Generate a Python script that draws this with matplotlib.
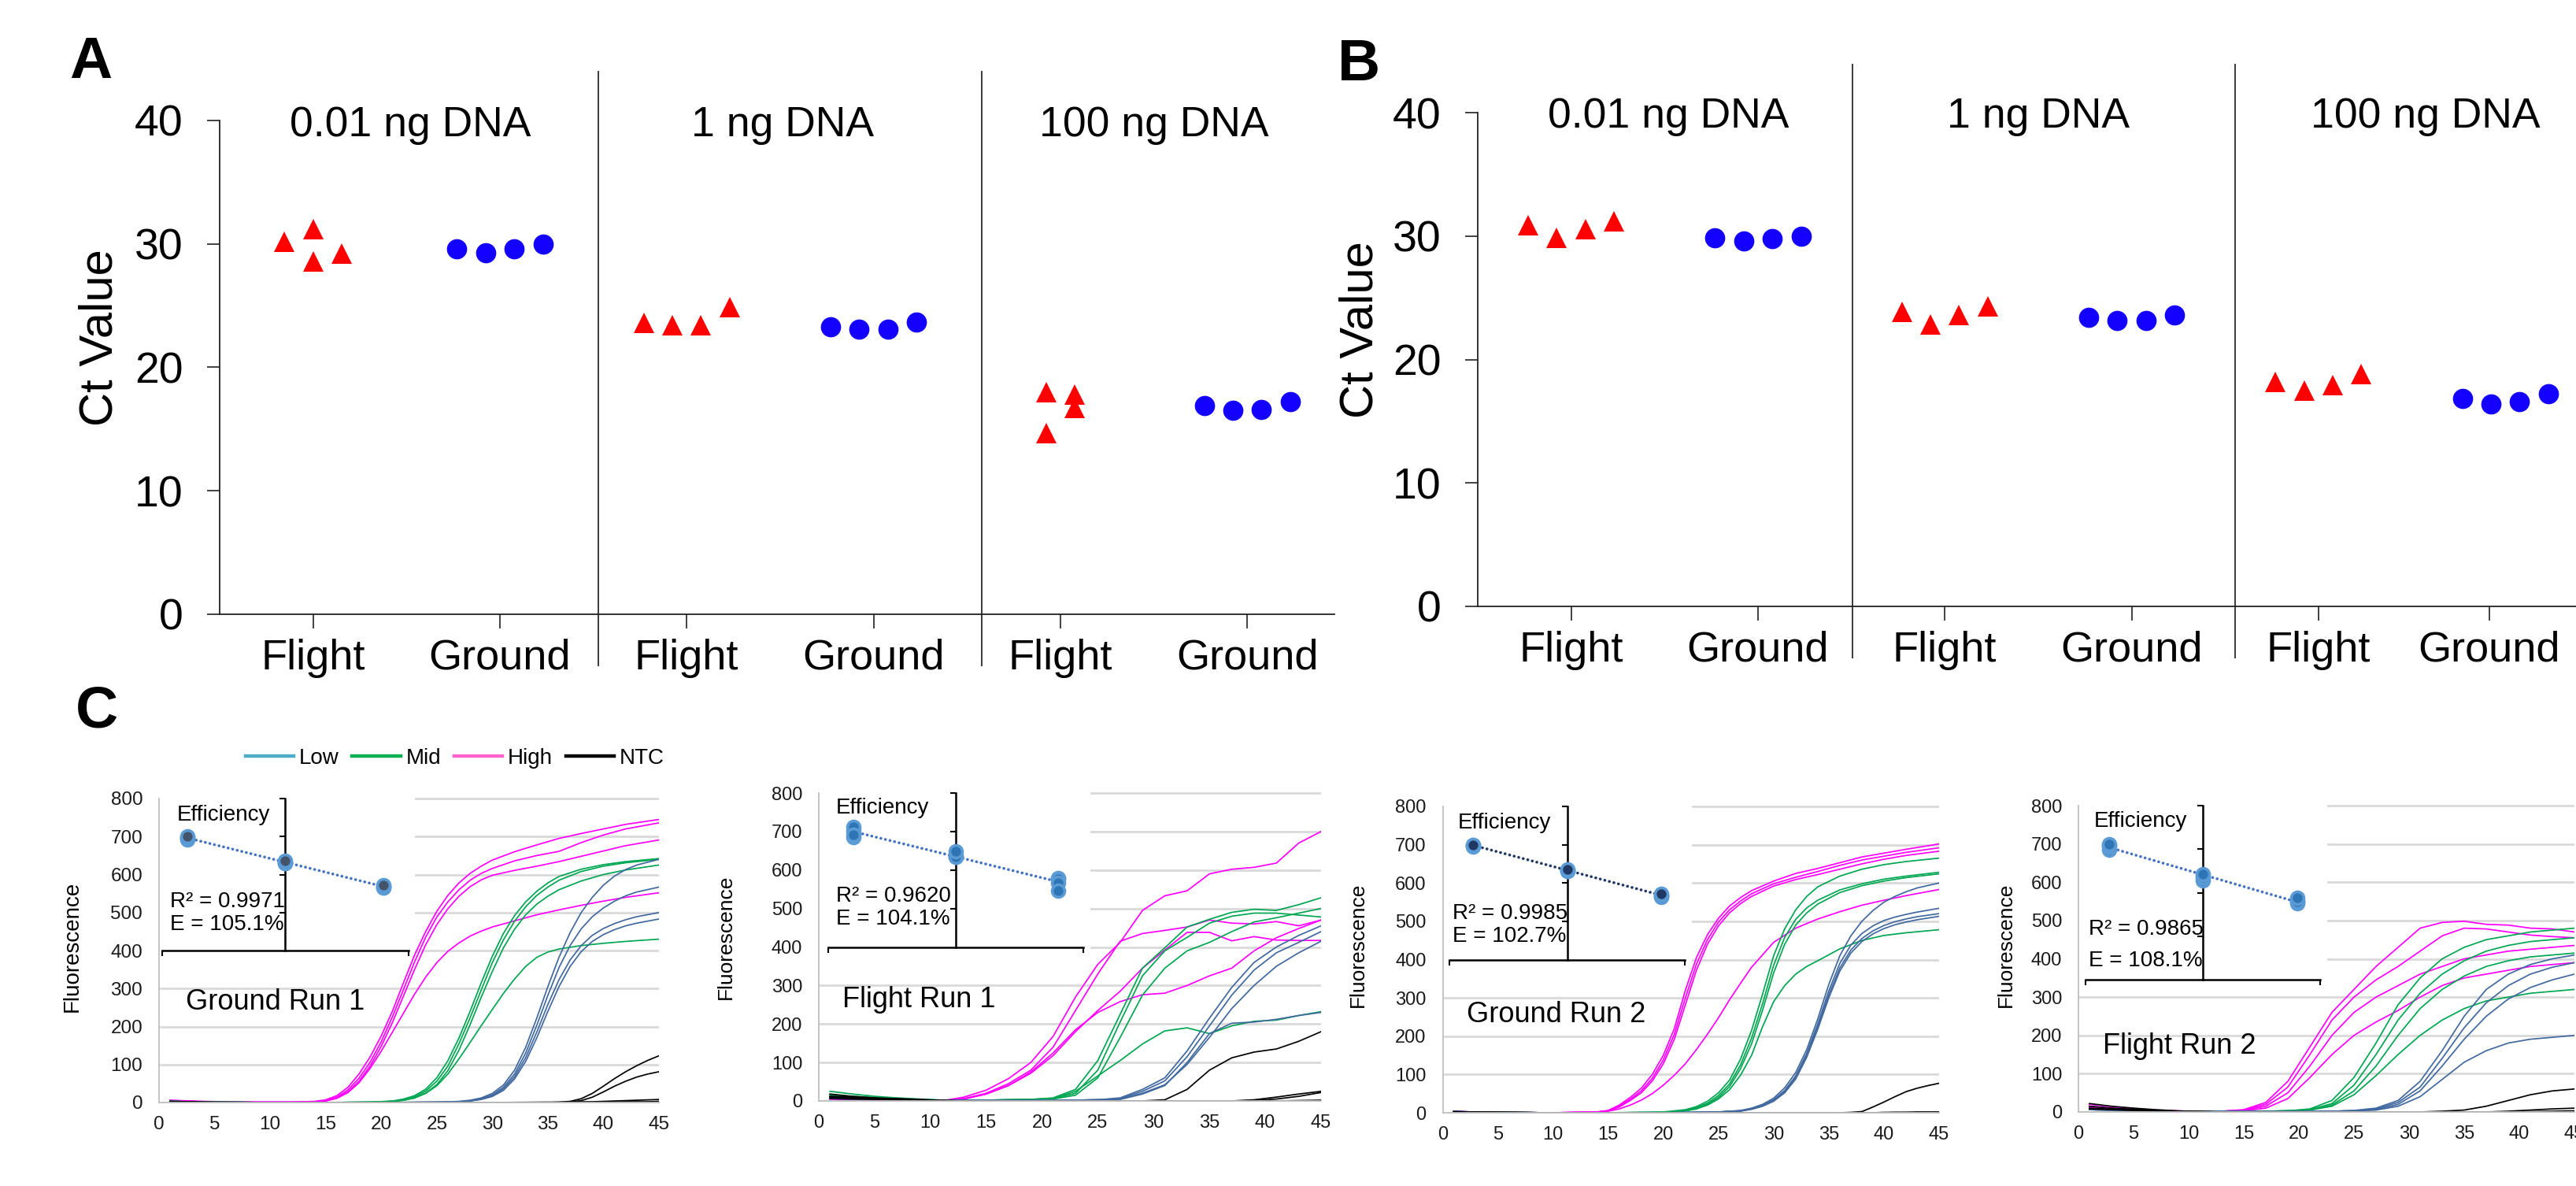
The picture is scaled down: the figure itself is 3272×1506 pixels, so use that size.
import numpy as np
import matplotlib
matplotlib.use("Agg")
import matplotlib.pyplot as plt
from matplotlib.lines import Line2D
from matplotlib.patches import Rectangle

# ------------------------------------------------------------------ data
SECTIONS = ["0.01 ng DNA", "1 ng DNA", "100 ng DNA"]
GROUPS = ["Flight", "Ground"]
CT_TICKS = [0, 10, 20, 30, 40]

# Ct values (4 replicates per amount)
A_FLIGHT = [[30.2, 31.2, 28.6, 29.2], [23.6, 23.4, 23.4, 24.9], [18.0, 17.8, 16.7, 14.7]]
A_GROUND = [[29.6, 29.3, 29.6, 30.0], [23.3, 23.1, 23.1, 23.7], [16.9, 16.5, 16.6, 17.2]]
B_FLIGHT = [[30.9, 29.9, 30.6, 31.2], [23.9, 22.85, 23.6, 24.3], [18.2, 17.5, 17.95, 18.8]]
B_GROUND = [[29.9, 29.6, 29.8, 30.0], [23.4, 23.2, 23.2, 23.6], [16.85, 16.4, 16.6, 17.25]]

# horizontal dodge of replicate markers within each group
DODGE4 = [-0.345, -0.115, 0.115, 0.345]
A_FLIGHT_DX = [[-0.23, 0.0, 0.0, 0.23], DODGE4, [-0.115, 0.115, 0.115, -0.115]]
A_GROUND_DX = [DODGE4, DODGE4, DODGE4]
B_FLIGHT_DX = [DODGE4, DODGE4, DODGE4]
B_GROUND_DX = [DODGE4, DODGE4, DODGE4]

LOG_NG = [-2, 0, 2]          # log10 of template amount used for the efficiency insets
CURVE_LABELS = ["Low", "Mid", "High", "NTC"]
CYCLE_TICKS = [0, 5, 10, 15, 20, 25, 30, 35, 40, 45]
FLUO_TICKS = [0, 100, 200, 300, 400, 500, 600, 700, 800]

# ---- Ground Run 1
GR1_HIGH_CYC = [1, 4, 8, 12, 14, 15, 16, 17, 18, 19, 20, 21, 22, 23, 24, 25, 26, 27, 28, 29, 30, 32, 34, 36, 38, 40, 42, 45]
GR1_HIGH = [
    [6, 3, 1, 1, 3, 7, 18, 40, 75, 120, 175, 240, 315, 388, 450, 503, 545, 578, 603, 622, 638, 660, 678, 695, 708, 720, 732, 745],
    [5, 2, 1, 1, 2, 5, 14, 33, 64, 106, 160, 225, 297, 370, 435, 488, 528, 560, 585, 603, 616, 636, 650, 661, 684, 704, 720, 736],
    [5, 2, 1, 1, 2, 4, 12, 28, 56, 96, 148, 210, 280, 350, 415, 468, 510, 543, 568, 586, 598, 611, 622, 634, 648, 662, 676, 691],
    [5, 2, 1, 1, 2, 4, 11, 26, 52, 90, 135, 185, 235, 285, 330, 368, 398, 420, 438, 451, 462, 478, 494, 507, 519, 530, 540, 552],
]
GR1_MID_CYC = [1, 5, 10, 15, 19, 21, 22, 23, 24, 25, 26, 27, 28, 29, 30, 31, 32, 33, 34, 35, 36, 38, 40, 42, 45]
GR1_MID = [
    [3, 1, 0, 0, 1, 4, 9, 18, 35, 65, 110, 170, 240, 315, 385, 445, 492, 528, 556, 578, 595, 614, 626, 634, 642],
    [3, 1, 0, 0, 1, 3, 7, 15, 30, 56, 96, 155, 223, 296, 368, 428, 477, 515, 545, 567, 585, 608, 622, 631, 640],
    [3, 1, 0, 0, 1, 3, 6, 12, 25, 47, 84, 138, 205, 277, 345, 407, 456, 494, 522, 543, 560, 583, 600, 612, 625],
    [3, 1, 0, 0, 1, 3, 6, 12, 24, 44, 75, 115, 158, 202, 245, 287, 325, 358, 382, 396, 404, 413, 419, 424, 430],
]
GR1_LOW_CYC = [1, 5, 10, 15, 20, 25, 27, 28, 29, 30, 31, 32, 33, 34, 35, 36, 37, 38, 39, 40, 41, 42, 43, 45]
GR1_LOW = [
    [2, 1, 0, 0, 0, 1, 3, 6, 12, 24, 46, 85, 145, 222, 305, 382, 447, 500, 540, 572, 596, 613, 625, 640],
    [2, 1, 0, 0, 0, 1, 2, 5, 10, 20, 40, 75, 130, 203, 282, 355, 413, 457, 489, 512, 530, 544, 554, 567],
    [2, 1, 0, 0, 0, 1, 2, 4, 9, 18, 36, 68, 118, 185, 258, 323, 375, 413, 440, 458, 471, 481, 489, 500],
    [2, 1, 0, 0, 0, 1, 2, 4, 8, 16, 32, 62, 108, 170, 240, 305, 358, 397, 424, 442, 455, 465, 472, 483],
]
GR1_NTC_CYC = [1, 5, 10, 20, 30, 35, 36, 37, 38, 39, 40, 41, 42, 43, 44, 45]
GR1_NTC = [
    [1, 0, 0, 0, 0, 0, 1, 3, 10, 24, 43, 63, 81, 97, 111, 123],
    [1, 0, 0, 0, 0, 0, 0, 1, 5, 14, 28, 43, 56, 67, 75, 81],
    [3, 1, 0, 0, 0, 1, 1, 1, 2, 2, 3, 4, 5, 6, 7, 8],
    [2, 1, 0, 0, 0, 0, 0, 0, 0, 1, 1, 1, 2, 2, 2, 3],
]

# ---- Flight Run 1 (one shared cycle grid)
FL1_CYC = [1, 3, 5, 7, 9, 11, 13, 15, 17, 19, 21, 23, 25, 27, 29, 31, 33, 35, 37, 39, 41, 43, 45]
FL1_HIGH = [
    [8, 6, 4, 3, 2, 0, 10, 28, 58, 100, 168, 270, 355, 412, 495, 533, 546, 590, 602, 607, 618, 670, 700],
    [6, 5, 3, 2, 1, 0, 6, 20, 45, 80, 140, 235, 330, 415, 435, 443, 452, 470, 462, 460, 466, 455, 470],
    [5, 4, 3, 2, 1, 0, 5, 18, 40, 75, 125, 185, 230, 258, 276, 280, 300, 325, 345, 390, 424, 448, 470],
    [5, 4, 3, 2, 1, 0, 5, 18, 40, 72, 118, 180, 235, 285, 345, 392, 438, 438, 416, 427, 418, 417, 417],
]
FL1_MID = [
    [25, 18, 12, 8, 5, 2, 1, 2, 3, 4, 8, 30, 105, 225, 345, 398, 452, 472, 490, 498, 495, 510, 528],
    [15, 12, 9, 6, 4, 2, 1, 2, 3, 4, 6, 20, 80, 205, 325, 390, 425, 462, 480, 488, 488, 483, 478],
    [12, 10, 8, 6, 4, 2, 1, 2, 3, 4, 5, 15, 60, 165, 275, 345, 390, 412, 440, 465, 476, 488, 500],
    [10, 8, 6, 4, 3, 2, 1, 2, 3, 4, 6, 25, 65, 105, 148, 182, 190, 175, 195, 207, 210, 222, 232],
]
FL1_LOW = [
    [8, 6, 5, 4, 3, 2, 1, 1, 1, 1, 1, 2, 3, 8, 30, 60, 130, 215, 295, 360, 400, 430, 455],
    [7, 6, 5, 4, 3, 2, 1, 1, 1, 1, 1, 2, 3, 6, 25, 52, 115, 195, 275, 340, 385, 412, 440],
    [6, 5, 4, 3, 2, 2, 1, 1, 1, 1, 1, 2, 3, 5, 20, 42, 95, 165, 240, 300, 350, 385, 415],
    [6, 5, 4, 3, 2, 2, 1, 1, 1, 1, 1, 2, 3, 4, 18, 40, 100, 175, 202, 205, 212, 222, 230],
]
FL1_NTC = [
    [18, 12, 8, 6, 4, 1, 0, 0, 0, 0, 0, 0, 0, 0, 0, 3, 30, 80, 112, 127, 135, 155, 180],
    [12, 10, 7, 5, 3, 1, 0, 0, 0, 0, 0, 0, 0, 0, 0, 0, 0, 0, 0, 3, 10, 18, 25],
    [10, 8, 6, 5, 3, 1, 0, 0, 0, 0, 0, 0, 0, 0, 0, 0, 0, 0, 0, 1, 5, 12, 22],
    [6, 5, 4, 3, 2, 1, 0, 0, 0, 0, 0, 0, 0, 0, 0, 0, 0, 0, 0, 0, 0, 1, 2],
]

# ---- Ground Run 2
GR2_HIGH_CYC = [1, 5, 10, 14, 15, 16, 17, 18, 19, 20, 21, 22, 23, 24, 25, 26, 27, 28, 30, 32, 34, 36, 38, 40, 42, 45]
GR2_HIGH = [
    [3, 1, 0, 2, 6, 20, 40, 64, 100, 150, 220, 320, 405, 465, 508, 540, 562, 580, 605, 625, 638, 653, 668, 678, 688, 702],
    [3, 1, 0, 2, 5, 17, 35, 57, 90, 138, 205, 300, 388, 452, 498, 530, 553, 572, 598, 615, 630, 646, 660, 670, 680, 692],
    [3, 1, 0, 2, 5, 15, 32, 52, 83, 128, 192, 282, 372, 440, 488, 522, 546, 565, 592, 609, 622, 636, 650, 662, 672, 683],
    [3, 1, 0, 2, 4, 10, 20, 33, 50, 72, 98, 128, 165, 205, 248, 295, 338, 380, 445, 482, 506, 525, 542, 555, 567, 583],
]
GR2_MID_CYC = [1, 5, 10, 15, 20, 22, 23, 24, 25, 26, 27, 28, 29, 30, 31, 32, 33, 34, 36, 38, 40, 42, 45]
GR2_MID = [
    [2, 1, 0, 0, 2, 8, 16, 30, 52, 85, 140, 215, 310, 410, 480, 530, 565, 590, 618, 636, 648, 656, 665],
    [2, 1, 0, 0, 1, 6, 13, 25, 45, 75, 125, 195, 285, 385, 458, 505, 535, 555, 582, 598, 610, 618, 628],
    [2, 1, 0, 0, 1, 5, 11, 22, 40, 68, 115, 180, 268, 365, 440, 490, 522, 545, 575, 593, 605, 614, 624],
    [2, 1, 0, 0, 1, 5, 10, 20, 36, 60, 98, 150, 225, 290, 332, 362, 382, 397, 428, 450, 463, 470, 478],
]
GR2_LOW_CYC = [1, 5, 10, 15, 20, 25, 27, 28, 29, 30, 31, 32, 33, 34, 35, 36, 37, 38, 39, 40, 41, 42, 43, 45]
GR2_LOW = [
    [3, 1, 0, 0, 0, 2, 6, 12, 22, 38, 65, 105, 165, 245, 335, 410, 462, 500, 528, 550, 565, 577, 587, 600],
    [3, 1, 0, 0, 0, 2, 5, 10, 19, 34, 58, 96, 155, 232, 318, 390, 438, 468, 488, 502, 511, 518, 524, 534],
    [3, 1, 0, 0, 0, 2, 5, 10, 18, 32, 55, 92, 150, 225, 308, 378, 425, 455, 475, 489, 499, 506, 512, 520],
    [3, 1, 0, 0, 0, 2, 4, 9, 17, 30, 52, 88, 145, 218, 300, 370, 417, 447, 467, 481, 491, 498, 504, 513],
]
GR2_NTC_CYC = [1, 5, 10, 20, 30, 36, 37, 38, 39, 40, 41, 42, 43, 44, 45]
GR2_NTC = [
    [3, 1, 0, 0, 0, 0, 1, 3, 15, 28, 42, 55, 64, 71, 77],
    [3, 1, 0, 0, 0, 0, 0, 0, 0, 1, 1, 1, 2, 2, 2],
    [2, 1, 0, 0, 0, 0, 0, 0, 0, 0, 0, 0, 0, 0, 0],
    [2, 1, 0, 0, 0, 0, 0, 0, 0, 0, 1, 1, 1, 1, 1],
]

# ---- Flight Run 2 (shared grid)
FL2_CYC = [1, 3, 5, 7, 9, 11, 13, 15, 17, 19, 21, 23, 25, 27, 29, 31, 33, 35, 37, 39, 41, 43, 45]
FL2_HIGH = [
    [20, 14, 9, 5, 3, 1, 2, 6, 25, 80, 170, 260, 320, 380, 430, 480, 495, 498, 490, 488, 480, 478, 470],
    [15, 10, 7, 4, 2, 1, 2, 5, 20, 65, 150, 240, 300, 345, 380, 420, 460, 480, 478, 470, 462, 458, 455],
    [12, 9, 6, 4, 2, 1, 2, 4, 15, 50, 120, 200, 260, 300, 330, 360, 380, 400, 410, 420, 425, 430, 435],
    [10, 8, 5, 3, 2, 1, 1, 3, 10, 35, 90, 150, 200, 235, 265, 300, 330, 350, 360, 370, 380, 385, 390],
]
FL2_MID = [
    [8, 6, 4, 3, 2, 1, 1, 1, 2, 3, 8, 30, 90, 180, 280, 350, 400, 430, 450, 460, 470, 475, 480],
    [8, 6, 4, 3, 2, 1, 1, 1, 2, 3, 6, 22, 70, 150, 240, 310, 360, 395, 420, 435, 445, 450, 455],
    [8, 6, 4, 3, 2, 1, 1, 1, 2, 3, 5, 18, 55, 120, 200, 270, 320, 355, 380, 395, 405, 410, 415],
    [8, 6, 4, 3, 2, 1, 1, 1, 2, 3, 5, 15, 45, 95, 150, 200, 240, 270, 290, 300, 310, 315, 320],
]
FL2_LOW = [
    [6, 5, 4, 3, 2, 1, 1, 1, 1, 1, 1, 2, 4, 10, 30, 80, 160, 250, 320, 360, 385, 400, 410],
    [6, 5, 4, 3, 2, 1, 1, 1, 1, 1, 1, 2, 3, 8, 25, 65, 140, 220, 285, 330, 360, 378, 390],
    [6, 5, 4, 3, 2, 1, 1, 1, 1, 1, 1, 2, 3, 6, 20, 55, 120, 190, 250, 295, 325, 345, 360],
    [6, 5, 4, 3, 2, 1, 1, 1, 1, 1, 1, 2, 3, 5, 15, 40, 85, 130, 160, 180, 190, 195, 200],
]
FL2_NTC = [
    [22, 15, 10, 6, 3, 1, 0, 0, 0, 0, 0, 0, 0, 0, 0, 0, 2, 5, 15, 30, 45, 55, 60],
    [15, 10, 7, 4, 2, 1, 0, 0, 0, 0, 0, 0, 0, 0, 0, 0, 0, 0, 0, 2, 5, 8, 10],
    [10, 7, 5, 3, 2, 1, 0, 0, 0, 0, 0, 0, 0, 0, 0, 0, 0, 0, 0, 0, 1, 2, 3],
    [8, 6, 4, 3, 2, 1, 0, 0, 0, 0, 0, 0, 0, 0, 0, 0, 0, 0, 0, 0, 0, 0, 1],
]

R2_LABELS = ["R\u00b2 = 0.9971", "R\u00b2 = 0.9620", "R\u00b2 = 0.9985", "R\u00b2 = 0.9865"]
E_LABELS = ["E = 105.1%", "E = 104.1%", "E = 102.7%", "E = 108.1%"]
RUN_LABELS = ["Ground Run 1", "Flight Run 1", "Ground Run 2", "Flight Run 2"]

# ------------------------------------------------------------------ style
W, H, DPI = 3272, 1506, 100
plt.rcParams['font.family'] = ['Liberation Sans', 'DejaVu Sans']
fig = plt.figure(figsize=(W / DPI, H / DPI), dpi=DPI)

RED = '#FF0000'
BLUE = '#1400FF'
C_HIGH, C_MID, C_LOW, C_NTC = '#FF00FF', '#00A651', '#41699F', '#000000'
LEG_COLORS = ['#4BACC6', '#00B050', '#FF66CC', '#000000']


def box(x0, ytop, x1, ybot):
    return [x0 / W, 1 - ybot / H, (x1 - x0) / W, (ybot - ytop) / H]


# ------------------------------------------------------------------ panels A / B
UNIT = 158.2   # px per x unit


def ct_panel(xaxis, y40, y0, flight, ground, fdx, gdx, dividers, div_top, div_bot,
             title_x, title_y, xmax_units, tick_x):
    ax = fig.add_axes(box(xaxis, y40, xaxis + xmax_units * UNIT, y0))
    ax.set_xlim(0, xmax_units)
    ax.set_ylim(0, 40)
    for s in ['top', 'right']:
        ax.spines[s].set_visible(False)
    for s in ['left', 'bottom']:
        ax.spines[s].set_linewidth(1.3)
        ax.spines[s].set_color('#222222')
    ax.spines['left'].set_bounds(0, 40)
    ax.set_yticks(CT_TICKS)
    ax.tick_params(axis='y', length=11.5, width=1.3, color='#333333', pad=22, labelsize=40)
    ax.set_xticks(tick_x)
    ax.set_xticklabels(GROUPS * 3)
    ax.tick_params(axis='x', length=13, width=1.3, color='#333333', pad=9, labelsize=39)
    ppu = (y0 - y40) / 40.0
    for d in dividers:
        ax.plot([d, d], [(y0 - div_bot) / ppu, (y0 - div_top) / ppu], color='#3a3a3a',
                lw=1.4, clip_on=False, zorder=1)
    for k in range(3):
        fx = [0.75 + 3 * k + dx for dx in fdx[k]]
        gx = [2.25 + 3 * k + dx for dx in gdx[k]]
        ax.plot(fx, flight[k], linestyle='none', marker='^', ms=18.5, mew=0, color=RED,
                clip_on=False, zorder=3)
        ax.plot(gx, ground[k], linestyle='none', marker='o', ms=18.5, mew=0, color=BLUE,
                clip_on=False, zorder=3)
        ax.text(title_x[k], title_y, SECTIONS[k], ha='center', va='baseline', fontsize=38.5)
    return ax


axA = ct_panel(279, 153, 780, A_FLIGHT, A_GROUND, A_FLIGHT_DX, A_GROUND_DX,
               [3.04, 6.12], 91, 845, [1.53, 4.52, 7.5], 38.7, 8.95,
               [0.75, 2.25, 3.75, 5.25, 6.75, 8.25])
axB = ct_panel(1877, 143.3, 770, B_FLIGHT, B_GROUND, B_FLIGHT_DX, B_GROUND_DX,
               [3.01, 6.08], 82, 835, [1.53, 4.5, 7.61], 38.8, 9.1,
               [0.75, 2.25, 3.75, 5.25, 6.75, 8.12])

fig.text(127 / W, 1 - 429 / H, 'Ct Value', rotation=90, ha='center', va='center', fontsize=43)
fig.text(1728 / W, 1 - 419 / H, 'Ct Value', rotation=90, ha='center', va='center', fontsize=43)
fig.text(88 / W, 1 - 99 / H, 'A', fontsize=54, fontweight='bold', ha='left', va='baseline')
fig.text(1699 / W, 1 - 102 / H, 'B', fontsize=54, fontweight='bold', ha='left', va='baseline')
fig.text(96 / W, 1 - 924 / H, 'C', fontsize=54, fontweight='bold', ha='left', va='baseline')


# ------------------------------------------------------------------ panel C
def amp_panel(x0, x45, y800, y0, groups, ct_vals, idx, ins_x, ins_y0, txt, face, trend_col,
              tick_fs, ylab_x, ylab_y, ylab_fs):
    ymax = 812
    ppu = (y0 - y800) / 800.0
    ax = fig.add_axes(box(x0, y0 - ymax * ppu, x45, y0))
    ax.set_xlim(0, 45)
    ax.set_ylim(0, ymax)
    ax.set_axisbelow(True)
    ax.set_yticks(FLUO_TICKS)
    ax.set_xticks(CYCLE_TICKS)
    ax.yaxis.grid(True, color='#D9D9D9', lw=2.0)
    for s in ['top', 'right']:
        ax.spines[s].set_visible(False)
    for s in ['left', 'bottom']:
        ax.spines[s].set_color('#BFBFBF')
        ax.spines[s].set_linewidth(1.3)
    ax.spines['left'].set_bounds(0, 800)
    ax.tick_params(axis='both', length=0, labelsize=tick_fs, labelcolor='#1a1a1a')
    ax.tick_params(axis='y', pad=15)
    ax.tick_params(axis='x', pad=12)
    # curves
    for cyc, curves, col in groups:
        for vals in curves:
            ax.plot(cyc, vals, color=col, lw=1.25, zorder=2, solid_joinstyle='round')
    # white backdrop of the embedded efficiency chart
    ax.add_patch(Rectangle((0, ins_y0 - 8), ins_x[1] + 0.6, 830 - ins_y0, facecolor='white',
                           edgecolor='none', zorder=1))
    # efficiency inset
    ins = ax.inset_axes([ins_x[0], ins_y0, ins_x[1] - ins_x[0], 800 - ins_y0],
                        transform=ax.transData)
    ins.patch.set_visible(False)
    ins.set_xlim(-2.5, 2.5)
    ins.set_ylim(0, 40)
    ins.spines['left'].set_position(('data', 0))
    for s in ['top', 'right']:
        ins.spines[s].set_visible(False)
    for s in ['left', 'bottom']:
        ins.spines[s].set_linewidth(1.8)
        ins.spines[s].set_color('black')
    ins.set_xticks([-2.5, 2.5])
    ins.set_yticks([10, 20, 30, 40])
    ins.tick_params(labelleft=False, labelbottom=False, direction='out', length=5,
                    width=1.5, color='black')
    xs = np.repeat(LOG_NG, 4)
    ys = np.array(ct_vals).ravel()
    slope, icpt = np.polyfit(xs, ys, 1)
    tx = np.array([-2.0, 2.0])
    ins.plot(tx, slope * tx + icpt, color=trend_col, lw=2.6, linestyle=(0, (0.05, 1.6)),
             dash_capstyle='round', zorder=2)
    ins.scatter(xs, ys, s=11.5 ** 2, facecolor=face, edgecolor='#5B9BD5', linewidth=2.6,
                zorder=3, clip_on=False)
    # annotations
    ax.text(txt['eff'][0], txt['eff'][1], 'Efficiency', fontsize=20, ha='left', va='baseline', zorder=6)
    ax.text(txt['r2'][0], txt['r2'][1], R2_LABELS[idx], fontsize=20, ha='left', va='baseline', zorder=6)
    ax.text(txt['e'][0], txt['e'][1], E_LABELS[idx], fontsize=20, ha='left', va='baseline', zorder=6)
    ax.text(txt['run'][0], txt['run'][1], RUN_LABELS[idx], fontsize=26, ha='left', va='baseline', zorder=6)
    fig.text(ylab_x / W, 1 - ylab_y / H, 'Fluorescence', rotation=90, ha='center',
             va='center', fontsize=ylab_fs)
    return ax


def grp(high_c, high, mid_c, mid, low_c, low, ntc_c, ntc):
    return [(high_c, high, C_HIGH), (mid_c, mid, C_MID), (low_c, low, C_LOW), (ntc_c, ntc, C_NTC)]


c1 = amp_panel(202, 837, 1014, 1400,
               grp(GR1_HIGH_CYC, GR1_HIGH, GR1_MID_CYC, GR1_MID, GR1_LOW_CYC, GR1_LOW, GR1_NTC_CYC, GR1_NTC),
               A_GROUND, 0, (0.31, 22.43), 400,
               {'eff': (1.6, 742), 'r2': (1.0, 513), 'e': (1.0, 454), 'run': (2.4, 244)},
               '#44546A', '#4472C4', 17.5, 92, 1202, 20)
c2 = amp_panel(1040, 1678, 1007, 1398,
               grp(FL1_CYC, FL1_HIGH, FL1_CYC, FL1_MID, FL1_CYC, FL1_LOW, FL1_CYC, FL1_NTC),
               A_FLIGHT, 1, (0.82, 23.7), 400,
               {'eff': (1.55, 747), 'r2': (1.55, 517), 'e': (1.55, 458), 'run': (2.1, 243)},
               '#2E75B6', '#4472C4', 17, 922, 1190, 19)
c3 = amp_panel(1832.5, 2463, 1024, 1413,
               grp(GR2_HIGH_CYC, GR2_HIGH, GR2_MID_CYC, GR2_MID, GR2_LOW_CYC, GR2_LOW, GR2_NTC_CYC, GR2_NTC),
               B_GROUND, 2, (0.64, 21.96), 400,
               {'eff': (1.4, 743), 'r2': (0.9, 506), 'e': (0.9, 446), 'run': (2.2, 236)},
               '#1F3864', '#203864', 17, 1725, 1200, 19)
c4 = amp_panel(2640, 3270, 1023, 1412,
               grp(FL2_CYC, FL2_HIGH, FL2_CYC, FL2_MID, FL2_CYC, FL2_LOW, FL2_CYC, FL2_NTC),
               B_FLIGHT, 3, (0.64, 21.96), 345,
               {'eff': (1.4, 745), 'r2': (0.9, 462), 'e': (0.9, 380), 'run': (2.2, 152)},
               '#2E75B6', '#4472C4', 17, 2548, 1200, 19)

# legend above the first amplification plot
handles = [Line2D([], [], color=c, lw=3.2) for c in LEG_COLORS]
fig.legend(handles, CURVE_LABELS, loc='center left', bbox_to_anchor=(312 / W, 1 - 963 / H),
           ncol=4, frameon=False, fontsize=20, handlelength=2.2, handletextpad=0.25,
           columnspacing=0.6, borderpad=0, borderaxespad=0)

fig.savefig('out.png', dpi=DPI)
